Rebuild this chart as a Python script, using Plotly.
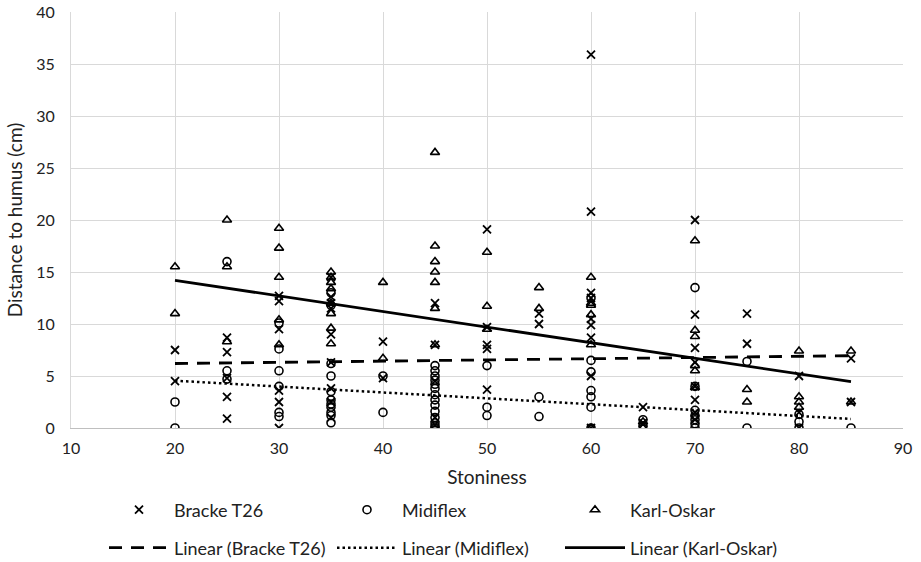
import plotly.graph_objects as go

# ---- data ----
stoniness = [20, 25, 30, 35, 40, 45, 50, 55, 60, 65, 70, 75, 80, 85]

bracke_vals = [
    [7.5, 4.5],
    [8.7, 7.3, 4.8, 3.0, 0.9],
    [12.7, 12.2, 9.5, 3.6, 2.5, 0],
    [14.5, 12.6, 12.0, 11.5, 9.0, 6.3, 3.8, 2.5, 1.0],
    [8.3, 4.8],
    [12.0, 8.0, 4.5, 1.0, 0.3],
    [19.1, 9.7, 8.0, 7.6, 3.7],
    [11.0, 10.0],
    [35.9, 20.8, 13.0, 12.5, 10.5, 9.9, 8.7, 5.0, 0],
    [2.0, 0.5],
    [20.0, 10.9, 7.7, 6.3, 4.0, 2.7, 1.5, 0.8],
    [11.0, 8.1],
    [5.0, 1.5, 0],
    [6.7, 2.5],
]

midiflex_vals = [
    [2.5, 0],
    [16.0, 5.5, 4.7],
    [10.1, 7.6, 5.5, 4.0, 1.5, 1.1],
    [13.0, 11.8, 6.2, 5.0, 3.5, 2.7, 2.3, 2.0, 1.5, 1.2, 0.5],
    [5.0, 1.5],
    [6.0, 5.5, 5.0, 4.6, 4.2, 3.8, 3.2, 2.7, 2.2, 1.6, 1.0, 0.5, 0.2, 0],
    [6.0, 2.0, 1.2],
    [3.0, 1.1],
    [12.5, 6.5, 5.4, 3.6, 3.0, 2.0, 0],
    [0.8, 0.2],
    [13.5, 4.0, 1.7, 1.2, 0.8, 0.4, 0],
    [6.4, 0],
    [1.3, 0.6, 0],
    [0],
]

karl_vals = [
    [15.5, 11.0],
    [20.0, 15.5, 8.3],
    [19.2, 17.3, 14.5, 10.4, 8.0],
    [15.0, 14.5, 14.0, 13.4, 12.0, 11.0, 9.6, 8.1],
    [14.0, 6.7],
    [26.5, 17.5, 16.0, 15.0, 14.0, 11.5, 8.0],
    [16.9, 11.7, 9.5],
    [13.5, 11.5],
    [14.5, 12.0, 11.8, 10.9, 8.0, 0],
    [0.6, 0],
    [18.0, 9.4, 8.8, 6.0, 5.5, 3.9],
    [3.7, 2.5],
    [7.4, 3.0, 2.5, 2.0],
    [7.4, 2.5],
]

# linear trend lines (end points)
trend_x = [20, 85]
bracke_trend = [6.2, 6.95]
midiflex_trend = [4.55, 0.87]
karl_trend = [14.2, 4.45]

x_ticks = [10, 20, 30, 40, 50, 60, 70, 80, 90]
y_ticks = [0, 5, 10, 15, 20, 25, 30, 35, 40]


def flatten(vals):
    xs, ys = [], []
    for s, group in zip(stoniness, vals):
        for v in group:
            xs.append(s)
            ys.append(v)
    return xs, ys


FONT = "Lato"
BLACK = "#000000"
GRID = "#d9d9d9"
TEXT = "#222222"

fig = go.Figure()

bx, by = flatten(bracke_vals)
mx, my = flatten(midiflex_vals)
kx, ky = flatten(karl_vals)

fig.add_trace(go.Scatter(
    x=bx, y=by, mode="markers", name="Bracke T26", legend="legend",
    marker=dict(symbol="x-thin", size=8, line=dict(color=BLACK, width=1.8), color=BLACK)))
fig.add_trace(go.Scatter(
    x=mx, y=my, mode="markers", name="Midiflex", legend="legend",
    marker=dict(symbol="circle-open", size=8, line=dict(color=BLACK, width=1.6), color=BLACK)))
fig.add_trace(go.Scatter(
    x=kx, y=ky, mode="markers", name="Karl-Oskar", legend="legend",
    marker=dict(symbol="triangle-up-open", size=8, line=dict(color=BLACK, width=1.6), color=BLACK)))

fig.add_trace(go.Scatter(
    x=trend_x, y=bracke_trend, mode="lines", name="Linear (Bracke T26)", legend="legend2",
    line=dict(color=BLACK, width=2.8, dash="13px,9px")))
fig.add_trace(go.Scatter(
    x=trend_x, y=midiflex_trend, mode="lines", name="Linear (Midiflex)", legend="legend2",
    line=dict(color=BLACK, width=2.5, dash="2.5px,3px")))
fig.add_trace(go.Scatter(
    x=trend_x, y=karl_trend, mode="lines", name="Linear (Karl-Oskar)", legend="legend2",
    line=dict(color=BLACK, width=2.8)))

legend_common = dict(
    orientation="h", xref="container", yref="container",
    xanchor="left", yanchor="middle",
    font=dict(family=FONT, size=18, color=TEXT),
    itemwidth=60, entrywidth=153, entrywidthmode="pixels",
    bgcolor="rgba(0,0,0,0)", itemclick=False, itemdoubleclick=False,
)

fig.update_layout(
    width=921, height=562,
    margin=dict(l=71, r=18, t=12, b=134, autoexpand=False),
    paper_bgcolor="white", plot_bgcolor="white",
    font=dict(family=FONT, color=TEXT),
    showlegend=True,
    legend=dict(legend_common, x=104 / 921, y=1 - 510 / 562),
    legend2=dict(legend_common, x=104 / 921, y=1 - 548 / 562),
    xaxis=dict(
        range=[10, 90], tickvals=x_ticks, showgrid=True, gridcolor=GRID, gridwidth=1,
        zeroline=False, showline=True, linecolor="#bfbfbf", linewidth=1,
        ticks="outside", ticklen=6, tickcolor="rgba(0,0,0,0)",
        tickfont=dict(family=FONT, size=16, color=TEXT),
        title=dict(text="Stoniness", font=dict(family=FONT, size=19, color=TEXT), standoff=14),
    ),
    yaxis=dict(
        range=[0, 40], tickvals=y_ticks, showgrid=True, gridcolor=GRID, gridwidth=1,
        zeroline=False, showline=True, linecolor="#d9d9d9", linewidth=1,
        ticks="outside", ticklen=12, tickcolor="rgba(0,0,0,0)",
        tickfont=dict(family=FONT, size=16, color=TEXT),
        title=dict(text="Distance to humus (cm)", font=dict(family=FONT, size=19, color=TEXT), standoff=8),
    ),
)

fig.write_html("out.html")
